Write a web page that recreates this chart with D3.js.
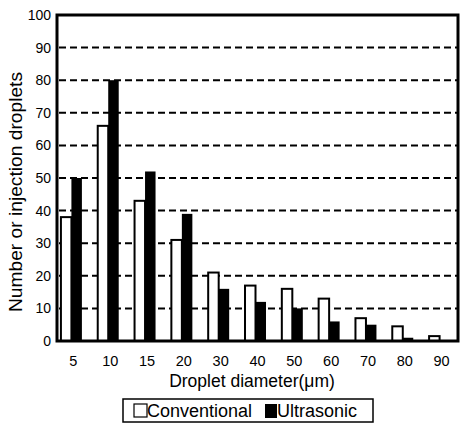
<!DOCTYPE html>
<html>
<head>
<meta charset="utf-8">
<script src="https://cdn.jsdelivr.net/npm/d3@7"></script>
<style>
  body { margin: 0; background: #fff; }
  text { font-family: "Liberation Sans", Arial, sans-serif; fill: #000; }
</style>
</head>
<body>
<svg id="chart"></svg>
<script>
// droplet diameter classes (um)
const diameters = ["5", "10", "15", "20", "30", "40", "50", "60", "70", "80", "90"];
const conventional = [38, 66, 43, 31, 21, 17, 16, 13, 7, 4.5, 1.5];
const ultrasonic = [50, 80, 52, 39, 16, 12, 10, 6, 5, 1, 0];
const yTicks = [0, 10, 20, 30, 40, 50, 60, 70, 80, 90, 100];
const seriesNames = ["Conventional", "Ultrasonic"];

const width = 460, height = 432;
const plotLeft = 57, plotRight = 458, plotTop = 15, plotBottom = 341;

const svg = d3.select("#chart")
    .attr("width", width)
    .attr("height", height);

let x = d3.scaleBand()
    .domain(diameters)
    .range([53, plotRight])
    .paddingInner(0.43)
    .paddingOuter(0.215);

let xSub = d3.scaleBand()
    .domain(seriesNames)
    .range([0, x.bandwidth()]);

let y = d3.scaleLinear()
    .domain([0, 100])
    .range([plotBottom, plotTop]);

// dashed gridlines
svg.append("g")
    .selectAll("line")
    .data(yTicks.filter(d => d > 0 && d < 100))
    .join("line")
        .attr("x1", plotLeft + 2)
        .attr("x2", plotRight)
        .attr("y1", d => y(d))
        .attr("y2", d => y(d))
        .attr("stroke", "#000")
        .attr("stroke-width", 2)
        .attr("stroke-dasharray", "7,4");

// y tick labels
svg.append("g")
    .selectAll("text")
    .data(yTicks)
    .join("text")
        .attr("x", 51)
        .attr("y", d => y(d))
        .attr("dy", "0.35em")
        .attr("text-anchor", "end")
        .attr("font-size", 14)
        .text(d => d);

// bars
let rows = diameters.map((d, i) => ({d: d, vals: [conventional[i], ultrasonic[i]]}));

let groups = svg.append("g")
    .selectAll("g")
    .data(rows)
    .join("g")
        .attr("transform", r => `translate(${x(r.d)},0)`);

groups.selectAll("rect")
    .data(r => r.vals.map((v, j) => ({name: seriesNames[j], v: v})))
    .join("rect")
        .attr("x", s => xSub(s.name))
        .attr("y", s => y(s.v))
        .attr("width", xSub.bandwidth())
        .attr("height", s => plotBottom - y(s.v))
        .attr("fill", s => s.name === "Ultrasonic" ? "#000" : "#fff")
        .attr("stroke", "#000")
        .attr("stroke-width", s => s.name === "Ultrasonic" ? 0 : 2);

// frame
svg.append("rect")
    .attr("x", plotLeft)
    .attr("y", plotTop)
    .attr("width", plotRight - plotLeft)
    .attr("height", plotBottom - plotTop)
    .attr("fill", "none")
    .attr("stroke", "#000")
    .attr("stroke-width", 3);

// x tick labels
svg.append("g")
    .selectAll("text")
    .data(diameters)
    .join("text")
        .attr("x", d => x(d) + x.bandwidth() / 2 + 2)
        .attr("y", 361)
        .attr("dy", "0.35em")
        .attr("text-anchor", "middle")
        .attr("font-size", 14.5)
        .text(d => d);

svg.append("text")
    .attr("x", 252)
    .attr("y", 381)
    .attr("dy", "0.35em")
    .attr("text-anchor", "middle")
    .attr("font-size", 17.5)
    .text("Droplet diameter(\u03bcm)");

svg.append("text")
    .attr("transform", "translate(16,192) rotate(-90)")
    .attr("dy", "0.35em")
    .attr("text-anchor", "middle")
    .attr("font-size", 17.5)
    .attr("textLength", 240)
    .attr("lengthAdjust", "spacingAndGlyphs")
    .text("Number or injection droplets");

// legend
let legend = svg.append("g");
legend.append("rect")
    .attr("x", 123).attr("y", 399)
    .attr("width", 250).attr("height", 23)
    .attr("fill", "none").attr("stroke", "#000").attr("stroke-width", 1.5);
legend.append("rect")
    .attr("x", 134).attr("y", 404)
    .attr("width", 13).attr("height", 13)
    .attr("fill", "#fff").attr("stroke", "#000").attr("stroke-width", 1.2);
legend.append("text")
    .attr("x", 147).attr("y", 411).attr("dy", "0.35em")
    .attr("font-size", 18)
    .text(seriesNames[0]);
legend.append("rect")
    .attr("x", 265).attr("y", 404)
    .attr("width", 12).attr("height", 14)
    .attr("fill", "#000");
legend.append("text")
    .attr("x", 277).attr("y", 411).attr("dy", "0.35em")
    .attr("font-size", 18)
    .text(seriesNames[1]);
</script>
</body>
</html>
